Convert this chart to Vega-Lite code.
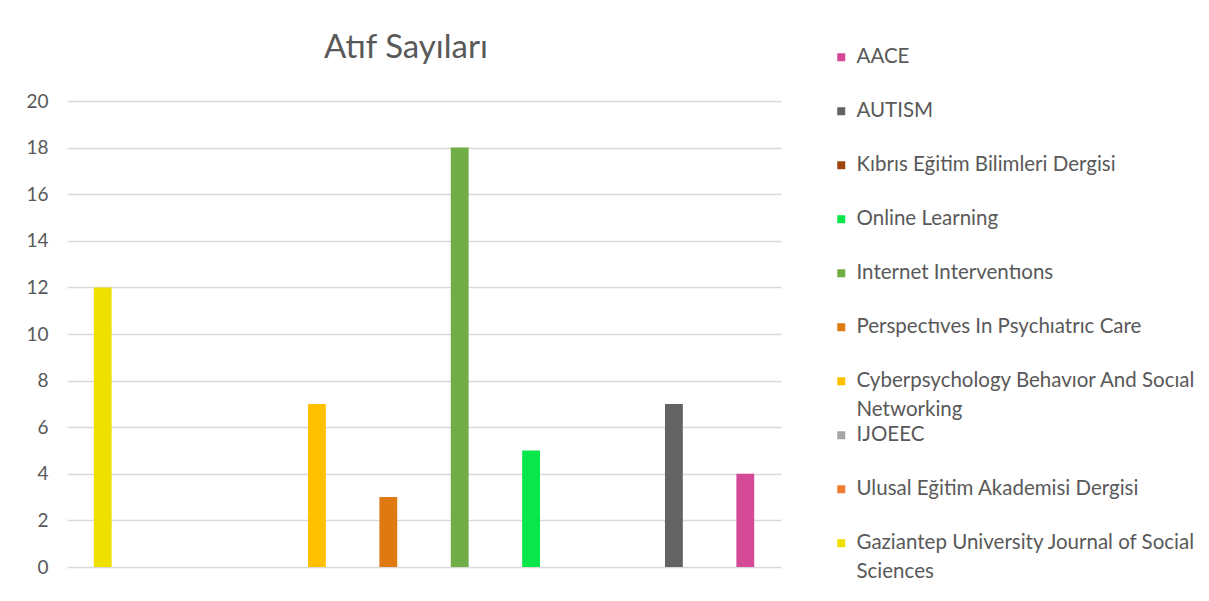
{
  "$schema": "https://vega.github.io/schema/vega-lite/v6.json",
  "width": 714,
  "height": 466,
  "padding": {"left": 25, "top": 32, "right": 5, "bottom": 5},
  "background": "white",
  "title": {
    "text": "Atıf Sayıları",
    "font": "Lato",
    "fontSize": 33,
    "fontWeight": "normal",
    "color": "#595959",
    "offset": -18,
    "dx": -18
  },
  "data": {
    "values": [
      {"dergi": "Gaziantep University Journal of Social Sciences", "atif": 12},
      {"dergi": "Ulusal Eğitim Akademisi Dergisi", "atif": 0},
      {"dergi": "IJOEEC", "atif": 0},
      {"dergi": "Cyberpsychology Behavıor And Socıal Networking", "atif": 7},
      {"dergi": "Perspectıves In Psychıatrıc Care", "atif": 3},
      {"dergi": "Internet Interventıons", "atif": 18},
      {"dergi": "Online Learning", "atif": 5},
      {"dergi": "Kıbrıs Eğitim Bilimleri Dergisi", "atif": 0},
      {"dergi": "AUTISM", "atif": 7},
      {"dergi": "AACE", "atif": 4}
    ]
  },
  "mark": {"type": "bar", "width": {"band": 0.25}},
  "encoding": {
    "x": {
      "field": "dergi",
      "type": "nominal",
      "sort": null,
      "scale": {"paddingInner": 0, "paddingOuter": 0},
      "axis": null
    },
    "y": {
      "field": "atif",
      "type": "quantitative",
      "scale": {"domain": [0, 20]},
      "axis": {
        "title": null,
        "values": [0, 2, 4, 6, 8, 10, 12, 14, 16, 18, 20],
        "domain": false,
        "ticks": false,
        "labelPadding": 19,
        "labelFont": "Lato",
        "labelFontSize": 19,
        "labelColor": "#595959",
        "gridColor": "#d9d9d9",
        "gridWidth": 1.3
      }
    },
    "color": {
      "field": "dergi",
      "type": "nominal",
      "scale": {
        "domain": [
          "AACE",
          "AUTISM",
          "Kıbrıs Eğitim Bilimleri Dergisi",
          "Online Learning",
          "Internet Interventıons",
          "Perspectıves In Psychıatrıc Care",
          "Cyberpsychology Behavıor And Socıal Networking",
          "IJOEEC",
          "Ulusal Eğitim Akademisi Dergisi",
          "Gaziantep University Journal of Social Sciences"
        ],
        "range": [
          "#d44a97",
          "#636363",
          "#9e480e",
          "#08e64c",
          "#70ad47",
          "#df7a12",
          "#ffc000",
          "#a5a5a5",
          "#ed7d31",
          "#efe000"
        ]
      },
      "legend": {
        "title": null,
        "orient": "none",
        "legendX": 764,
        "legendY": -54,
        "columns": 1,
        "gridAlign": "all",
        "symbolType": "square",
        "symbolSize": 64,
        "symbolStrokeWidth": 0,
        "labelFont": "Lato",
        "labelFontSize": 20.5,
        "labelColor": "#595959",
        "labelOffset": 5,
        "labelLimit": 400,
        "rowPadding": 4,
        "labelExpr": "datum.label == 'Cyberpsychology Behavıor And Socıal Networking' ? ['Cyberpsychology Behavıor And Socıal', 'Networking'] : datum.label == 'Gaziantep University Journal of Social Sciences' ? ['Gaziantep University Journal of Social', 'Sciences'] : datum.label",
        "encode": {
          "labels": {"update": {"lineHeight": {"value": 29}}}
        }
      }
    }
  },
  "config": {
    "view": {"stroke": null}
  }
}
